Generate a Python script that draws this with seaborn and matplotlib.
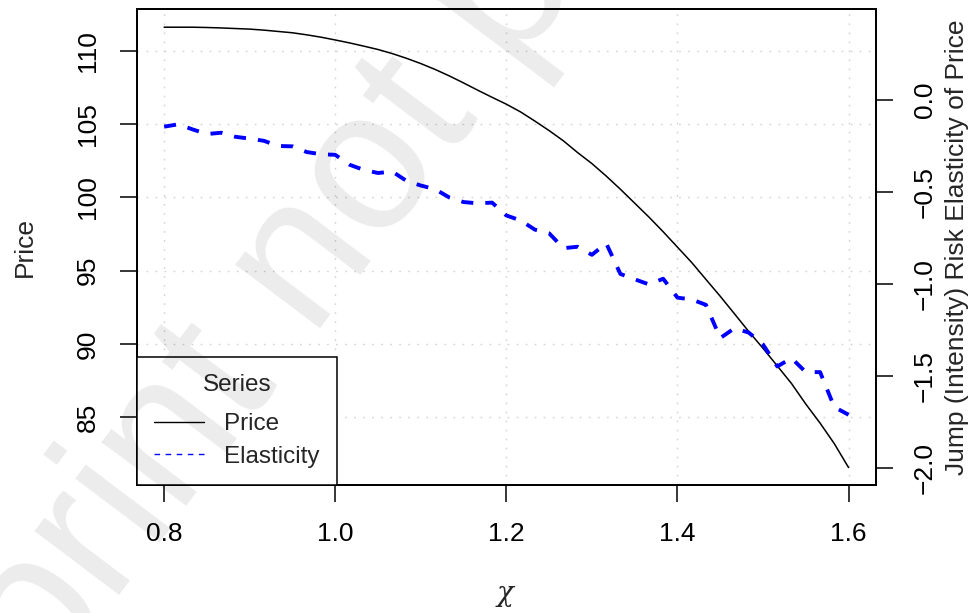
import numpy as np
import pandas as pd
import matplotlib
matplotlib.use("Agg")
import matplotlib.pyplot as plt
import seaborn as sns
from matplotlib.lines import Line2D

# jump intensity grid (chi)
chi = [0.8000, 0.8167, 0.8333, 0.8500, 0.8667, 0.8833, 0.9000, 0.9167, 0.9333,
       0.9500, 0.9667, 0.9833, 1.0000, 1.0167, 1.0333, 1.0500, 1.0667, 1.0833,
       1.1000, 1.1167, 1.1333, 1.1500, 1.1667, 1.1833, 1.2000, 1.2167, 1.2333,
       1.2500, 1.2667, 1.2833, 1.3000, 1.3167, 1.3333, 1.3500, 1.3667, 1.3833,
       1.4000, 1.4167, 1.4333, 1.4500, 1.4667, 1.4833, 1.5000, 1.5167, 1.5333,
       1.5500, 1.5667, 1.5833, 1.6000]

price = [111.60, 111.60, 111.60, 111.58, 111.55, 111.51, 111.47, 111.40, 111.31,
         111.22, 111.08, 110.92, 110.73, 110.53, 110.31, 110.08, 109.80, 109.48,
         109.12, 108.72, 108.28, 107.80, 107.30, 106.82, 106.35, 105.82, 105.20,
         104.55, 103.85, 103.05, 102.30, 101.45, 100.55, 99.60, 98.65, 97.65,
         96.60, 95.55, 94.40, 93.25, 92.05, 90.85, 89.70, 88.50, 87.30,
         85.90, 84.60, 83.20, 81.57]

elasticity = [-0.145, -0.132, -0.160, -0.185, -0.178, -0.200, -0.210, -0.222, -0.250,
              -0.252, -0.283, -0.295, -0.298, -0.352, -0.380, -0.397, -0.389, -0.440,
              -0.465, -0.485, -0.530, -0.555, -0.562, -0.558, -0.628, -0.655, -0.705,
              -0.725, -0.806, -0.798, -0.842, -0.779, -0.946, -0.975, -1.003, -0.972,
              -1.075, -1.085, -1.114, -1.295, -1.241, -1.265, -1.330, -1.449, -1.404,
              -1.480, -1.480, -1.670, -1.712]

x_ticks = [0.8, 1.0, 1.2, 1.4, 1.6]
price_ticks = [85, 90, 95, 100, 105, 110]
elast_ticks = [-2.0, -1.5, -1.0, -0.5, 0.0]

df = pd.DataFrame({"chi": chi, "Price": price, "Elasticity": elasticity})

sns.set_style("white")
plt.rcParams["font.family"] = ["Liberation Sans", "DejaVu Sans"]
plt.rcParams["mathtext.fontset"] = "dejavuserif"

fig = plt.figure(figsize=(9.76, 6.13), dpi=100)
ax = fig.add_axes([0.1401, 0.2088, 0.8975 - 0.1401, 0.9848 - 0.2088])
ax2 = ax.twinx()

sns.lineplot(data=df, x="chi", y="Price", ax=ax, color="black", linewidth=1.1,
             legend=False, zorder=3)
sns.lineplot(data=df, x="chi", y="Elasticity", ax=ax2, color="#0000ff", linewidth=2.8,
             linestyle=(0, (3.1, 3.1)), legend=False, zorder=3)

ax.set_xlim(0.768, 1.632)
ax.set_ylim(80.38, 112.82)
ax2.set_ylim(-2.094, 0.4933)

ax.set_xticks(x_ticks)
ax.set_xticklabels([f"{t:.1f}" for t in x_ticks])
ax.set_yticks(price_ticks)
ax.set_yticklabels([str(t) for t in price_ticks], rotation=90, va="center")
ax2.set_yticks(elast_ticks)
ax2.set_yticklabels([f"{t:.1f}".replace("-", "\u2212") for t in elast_ticks],
                    rotation=90, va="center")

# dotted grid like R's grid()
ax.grid(True, color="#d3d3d3", linestyle=(0, (1.2, 5.3)), linewidth=1.0)
ax2.grid(False)

for a in (ax, ax2):
    for s in a.spines.values():
        s.set_visible(True)
        s.set_color("black")
        s.set_linewidth(1.3)
    a.tick_params(length=12.5, width=1.1, pad=14, labelsize=19, colors="black",
                  direction="out")
ax.tick_params(axis="both", which="both", left=True, bottom=True, right=False)
ax2.tick_params(axis="y", right=True, left=False)

ax.set_xlabel(r"$\chi$", fontsize=20, labelpad=27)
ax.set_ylabel("Price", fontsize=19, labelpad=28)
ax2.set_ylabel("Jump (Intensity) Risk Elasticity of Price", fontsize=19, labelpad=6)

handles = [Line2D([], [], color="black", linewidth=1.0),
           Line2D([], [], color="#0000ff", linewidth=1.0, linestyle=(0, (4, 4)))]
leg = ax2.legend(handles, ["Price", "Elasticity"], title="Series", loc="lower left",
                 borderaxespad=0, fontsize=17.5, title_fontsize=17.5, fancybox=False,
                 framealpha=1, edgecolor="black", facecolor="white", borderpad=0.7,
                 handlelength=2.06, handletextpad=0.85, labelspacing=0.45)
leg.get_frame().set_linewidth(1.1)
leg._legend_box.sep = 12.2  # extra room between title and entries

# watermark
fig.text(-0.1465, -0.538, "Preprint not peer reviewed", fontsize=144, rotation=53,
         rotation_mode="anchor", ha="left", va="baseline", color="black", alpha=0.08,
         zorder=10)

fig.savefig("out.png", dpi=100)
